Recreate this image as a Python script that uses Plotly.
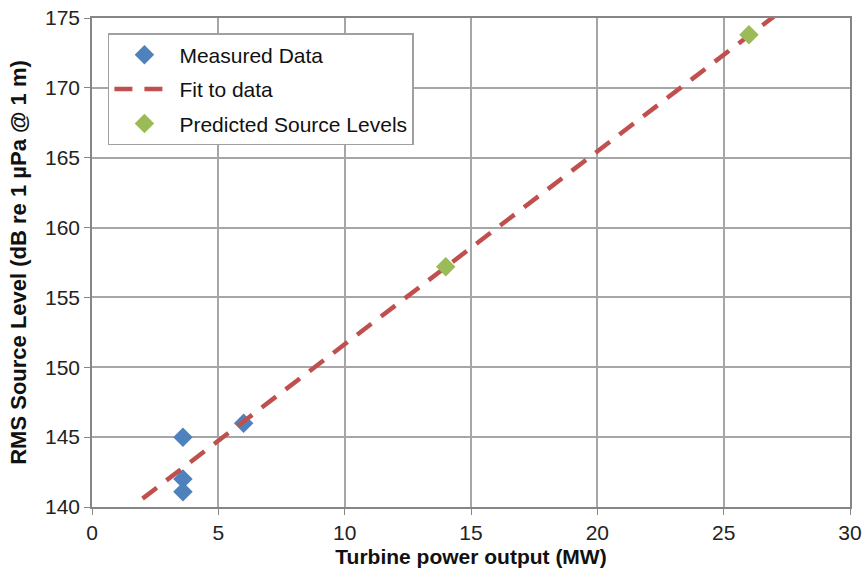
import plotly.graph_objects as go

measured_x = [3.6, 3.6, 3.6, 6.0]
measured_y = [145.0, 142.0, 141.1, 146.0]

fit_x = [2.0, 27.2]
fit_y = [140.6, 175.4]

predicted_x = [14.0, 26.0]
predicted_y = [157.2, 173.8]

x_ticks = [0, 5, 10, 15, 20, 25, 30]
y_ticks = [140, 145, 150, 155, 160, 165, 170, 175]

fig = go.Figure()
fig.add_trace(go.Scatter(
    x=measured_x, y=measured_y, mode="markers", name="Measured Data",
    legendgroup="a",
    marker=dict(symbol="diamond", size=15, color="#4F81BD"),
))
fig.add_trace(go.Scatter(
    x=fit_x, y=fit_y, mode="lines", name="Fit to data",
    legendgroup="b",
    line=dict(color="#C0504D", width=4.5, dash="18px,12px"),
))
fig.add_trace(go.Scatter(
    x=predicted_x, y=predicted_y, mode="markers", name="Predicted Source Levels",
    legendgroup="c",
    marker=dict(symbol="diamond", size=15, color="#9BBB59"),
))

axis_common = dict(
    showgrid=True, gridcolor="#a6a6a6", gridwidth=1.5,
    showline=True, linecolor="#868686", linewidth=1.5, mirror=True,
    ticks="outside", ticklen=6, tickcolor="#868686", zeroline=False,
    automargin=False, ticklabeloverflow="allow",
)

fig.update_layout(
    width=862, height=577,
    margin=dict(l=92, r=12, t=18, b=70),
    paper_bgcolor="white", plot_bgcolor="white",
    font=dict(family="Liberation Sans, Arial, sans-serif", size=21, color="#222"),
    showlegend=True,
    legend=dict(
        x=0.021, y=0.969, xanchor="left", yanchor="top",
        bgcolor="white", bordercolor="#a0a0a0", borderwidth=1.5,
        font=dict(size=21, color="#111"),
        itemwidth=60, tracegroupgap=4,
    ),
    xaxis=dict(
        range=[0, 30], tickvals=x_ticks,
        title=dict(text="<b>Turbine power output (MW)</b>", standoff=6,
                   font=dict(size=21, color="#111")),
        tickfont=dict(size=21, color="#222"),
        **axis_common,
    ),
    yaxis=dict(
        range=[140, 175], tickvals=y_ticks,
        title=dict(text="<b>RMS Source Level (dB re 1 µPa @ 1 m)</b>", standoff=12,
                   font=dict(size=22, color="#111")),
        tickfont=dict(size=21, color="#222"),
        **axis_common,
    ),
)

fig.write_html(
    "out.html",
    config={"displayModeBar": False},
    post_script="document.body.style.margin='0';document.body.style.overflow='hidden';",
)
